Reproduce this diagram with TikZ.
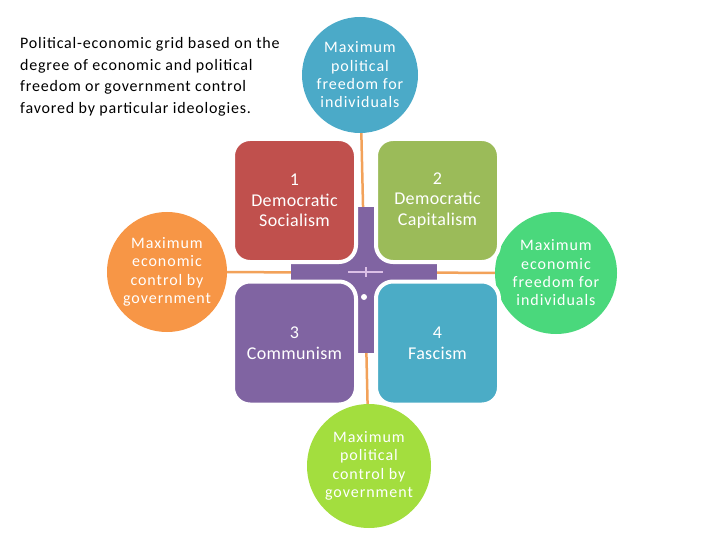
\documentclass[tikz,border=0pt]{standalone}
\usepackage{fontspec}
\setmainfont{Carlito}
\newfontfamily\titlefont[LetterSpace=5]{Carlito}
\newfontfamily\goalfont[LetterSpace=6]{Carlito}
\newfontfamily\quadfont[LetterSpace=2]{Carlito}
\usetikzlibrary{positioning}
\usepackage{xcolor}
\definecolor{quadred}{HTML}{C0504D}
\definecolor{quadgreen}{HTML}{9BBB59}
\definecolor{quadpurple}{HTML}{8064A2}
\definecolor{quadaqua}{HTML}{4BACC6}
\definecolor{goalaqua}{HTML}{4BAAC8}
\definecolor{goalorange}{HTML}{F79646}
\definecolor{goalgreen}{HTML}{4AD87C}
\definecolor{goallime}{HTML}{A3DE3E}
\definecolor{linkorange}{HTML}{F2A25A}
\definecolor{markpink}{HTML}{DCC0E6}

\begin{document}
\begin{tikzpicture}[x=1pt, y=-1pt,
    goal/.style={circle, inner sep=0pt, align=center, text=white, font=\goalfont\fontsize{16}{18.3}\selectfont},
    quad/.style={rounded corners=17pt, minimum size=123pt, inner sep=0pt, draw=white, line width=4pt, align=center, text=white, font=\quadfont\fontsize{18}{20.7}\selectfont},
    link/.style={draw=linkorange, line width=2.5pt},
]
\useasboundingbox (0,0) rectangle (720,540);

\node[anchor=north west, align=left, inner sep=0pt, font=\titlefont\fontsize{16}{21.8}\selectfont] (title) at (20,37)
    {Political-economic grid based on the\\degree of economic and political\\freedom or government control\\favored by particular ideologies.};

\node[goal, fill=goalaqua, minimum size=116pt] (polfree) at (360,75) {Maximum\\political\\freedom for\\individuals};
\node[goal, fill=goalorange, minimum size=120pt] (ecoctrl) at (167,272) {Maximum\\economic\\control by\\government};
\node[goal, fill=goalgreen, minimum size=122pt] (ecofree) at (556,273) {Maximum\\economic\\freedom for\\individuals};
\node[goal, fill=goallime, minimum size=124pt] (polctrl) at (369,466) {Maximum\\political\\control by\\government};

\foreach \i/\j in {polfree/polctrl, ecoctrl/ecofree} {
    \draw[link] (\i) -- (\j);
}

\fill[quadpurple] (356,207) rectangle (377,353);
\fill[quadpurple] (291,263) rectangle (437,281);
\fill[quadpurple] (338,244) rectangle (394,300);

\node[quad, fill=quadred] (q1) at (294.5,200.5) {1\\Democratic\\Socialism};
\node[quad, fill=quadgreen] (q2) at (437.5,200.5) {2\\Democratic\\Capitalism};
\node[quad, fill=quadpurple] (q3) at (294.5,343) {3\\Communism};
\node[quad, fill=quadaqua] (q4) at (437.5,343) {4\\Fascism};

\draw[markpink, line width=1.5pt] (348,272) -- (383,272);
\draw[markpink, line width=1.2pt] (366,267) -- (366,277);
\fill[white] (364,297) circle (3);

\end{tikzpicture}
\end{document}
